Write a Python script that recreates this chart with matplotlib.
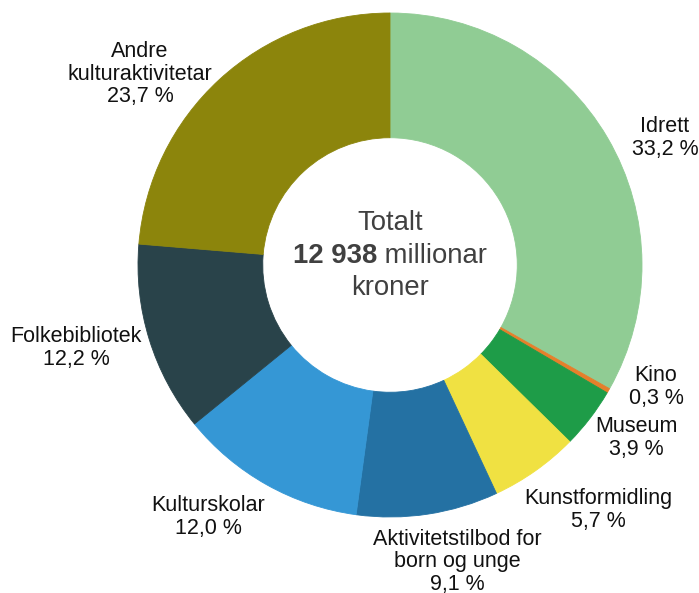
import matplotlib
matplotlib.use('Agg')
import matplotlib.pyplot as plt

plt.rcParams['font.family'] = ['Liberation Sans', 'DejaVu Sans']

categories = ['Idrett', 'Kino', 'Museum', 'Kunstformidling',
              'Aktivitetstilbod for\nborn og unge', 'Kulturskolar',
              'Folkebibliotek', 'Andre\nkulturaktivitetar']
shares = [33.2, 0.3, 3.9, 5.7, 9.1, 12.0, 12.2, 23.7]
share_labels = ['33,2 %', '0,3 %', '3,9 %', '5,7 %', '9,1 %', '12,0 %', '12,2 %', '23,7 %']
total_text = '12 938'

colors = ['#90cc94', '#e57f2b', '#1e9c48', '#f0e142', '#2471a3',
          '#3597d5', '#29434a', '#8c850c']

# label centres, pixel offsets from the pie centre (x right, y down)
label_offsets = [(275, -127), (266, 122), (246, 173), (208, 245),
                 (67, 297), (-182, 252), (-314, 83), (-250, -191)]

W, H = 699, 593
cx, cy = 390, 265
R = 252

fig = plt.figure(figsize=(W / 100, H / 100), dpi=100)
ax = fig.add_axes([0, 0, 1, 1])

wedges, _ = ax.pie(shares, colors=colors, startangle=90, counterclock=False,
                   center=(cx, H - cy), radius=R,
                   wedgeprops=dict(width=R * 0.495, linewidth=0.6))
for w, c in zip(wedges, colors):
    w.set_edgecolor(c)

ax.set_xlim(0, W)
ax.set_ylim(0, H)
ax.set_aspect('equal')
ax.axis('off')

for name, pct, (dx, dy) in zip(categories, share_labels, label_offsets):
    ax.text(cx + dx, H - cy - dy, f'{name}\n{pct}', ha='center', va='center',
            fontsize=15.5, color='#111111', linespacing=1.12)

# centre text
ax.text(cx, H - 223, 'Totalt', ha='center', va='center', fontsize=19.8, color='#404040')
ax.text(cx, H - 288, 'kroner', ha='center', va='center', fontsize=19.8, color='#404040')
t1 = ax.text(0, H - 256, total_text, ha='left', va='center', fontsize=19.8,
             fontweight='bold', color='#404040')
t2 = ax.text(0, H - 256, ' millionar', ha='left', va='center', fontsize=19.8,
             color='#404040')
fig.canvas.draw()
r = fig.canvas.get_renderer()
w1 = t1.get_window_extent(r).width
w2 = t2.get_window_extent(r).width
x0 = cx - (w1 + w2) / 2
t1.set_x(x0)
t2.set_x(x0 + w1)

fig.savefig('out.png', dpi=100)
